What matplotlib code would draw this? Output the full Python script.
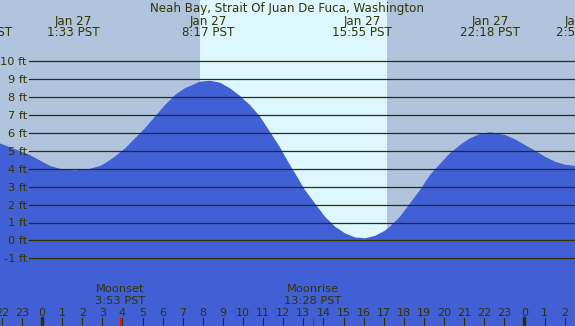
import matplotlib
matplotlib.use("Agg")
import matplotlib.pyplot as plt
from matplotlib.transforms import blended_transform_factory

# tide height (hours after midnight Jan 27, feet)
tide_hours = [-2.09, -0.60, 0.40, 0.90, 1.64, 2.39, 2.89, 3.13, 3.63, 4.13,
              4.63, 5.12, 5.62, 6.12, 6.62, 7.11, 7.61, 7.86, 8.36, 8.86,
              9.35, 9.85, 10.35, 10.85, 11.34, 11.84, 12.09, 12.34, 12.59, 13.08,
              13.58, 14.08, 14.58, 15.07, 15.57, 16.07, 16.57, 17.06, 17.31, 17.81,
              18.31, 18.81, 19.30, 19.80, 20.30, 20.80, 21.29, 21.79, 22.29, 23.03,
              23.53, 24.03, 24.53, 25.02, 25.52, 26.02, 26.52]
tide_ft = [5.42, 4.77, 4.16, 4.00, 3.91, 4.00, 4.16, 4.30, 4.68, 5.14,
           5.70, 6.26, 6.91, 7.56, 8.12, 8.50, 8.74, 8.87, 8.92, 8.81,
           8.50, 8.07, 7.56, 6.91, 6.07, 5.20, 4.70, 4.21, 3.75, 2.82,
           2.07, 1.32, 0.77, 0.40, 0.17, 0.12, 0.25, 0.54, 0.77, 1.32,
           2.07, 2.82, 3.65, 4.27, 4.87, 5.33, 5.70, 5.94, 6.04, 5.89,
           5.65, 5.33, 5.01, 4.68, 4.40, 4.23, 4.16]

# high / low events shown along the top
event_hours = [-2.98, 1.55, 8.28, 15.92, 22.30, 26.90]
event_dates = ["Jan 26", "Jan 27", "Jan 27", "Jan 27", "Jan 27", "Jan 28"]
event_times = ["21:01 PST", "1:33 PST", "8:17 PST", "15:55 PST", "22:18 PST", "2:51 PST"]

moon_hours = [3.88, 13.47]
moon_names = ["Moonset", "Moonrise"]
moon_times = ["3:53 PST", "13:28 PST"]

sunrise, sunset = 7.86, 17.16
levels = [-1, 0, 1, 2, 3, 4, 5, 6, 7, 8, 9, 10]
tick_hours = list(range(-2, 27))

title = "Neah Bay, Strait Of Juan De Fuca, Washington"

W, H = 575, 326
txt = "#333300"

fig = plt.figure(figsize=(W / 100, H / 100), dpi=100)
ax = fig.add_axes([0, 0, 1, 1])
ax.set_facecolor("#B0C4DE")
ax.set_xlim(-42 / 20.1, (W - 42) / 20.1)
ax.set_ylim((240.4 - H) / 17.9, 240.4 / 17.9)
ax.axis("off")
fig.patch.set_facecolor("#B0C4DE")
ax.add_patch(plt.Rectangle((0, 0), 1, 1, transform=ax.transAxes, color="#B0C4DE", zorder=0))

ax.axvspan(sunrise, sunset, color="#DDF7FF", zorder=1, lw=0)
ax.fill_between(tide_hours, tide_ft, -10, color="#4160D6", zorder=2, lw=0)

for lv in levels:
    ax.axhline(lv, xmin=29 / W, xmax=1, color="#2E2E00", lw=0.9, zorder=3)

ytr = blended_transform_factory(ax.transAxes, ax.transData)
for lv in levels:
    ax.text(27 / W, lv, f"{lv} ft", transform=ytr, ha="right", va="center_baseline",
            fontsize=8.2, color=txt, zorder=4)

xtr = blended_transform_factory(ax.transData, ax.transAxes)


def fy(py):
    return 1 - py / H


ax.text(0.5, fy(12.3), title, transform=ax.transAxes, ha="center", va="baseline",
        fontsize=8.6, color=txt, zorder=4)

for h, d, t in zip(event_hours, event_dates, event_times):
    ax.text(h, fy(24.8), d, transform=xtr, ha="center", va="baseline",
            fontsize=8.6, color=txt, zorder=4)
    ax.text(h, fy(36), t, transform=xtr, ha="center", va="baseline",
            fontsize=8.6, color=txt, zorder=4)

for h, n, t in zip(moon_hours, moon_names, moon_times):
    ax.text(h, fy(292), n, transform=xtr, ha="center", va="baseline",
            fontsize=8.2, color=txt, zorder=4)
    ax.text(h, fy(304), t, transform=xtr, ha="center", va="baseline",
            fontsize=8.2, color=txt, zorder=4)
    ax.axvline(h, ymin=0, ymax=8 / H, color="red", lw=0.8, zorder=4)

for h in tick_hours:
    ax.text(h, fy(315.7), str(h % 24), transform=xtr, ha="center", va="baseline",
            fontsize=8, color=txt, zorder=4)
    mid = h % 24 == 0
    ax.axvline(h, ymin=0, ymax=8 / H, color="#2E2E00", lw=2.4 if mid else 0.8, zorder=4)

fig.savefig("out.png", dpi=100, facecolor=fig.get_facecolor())
